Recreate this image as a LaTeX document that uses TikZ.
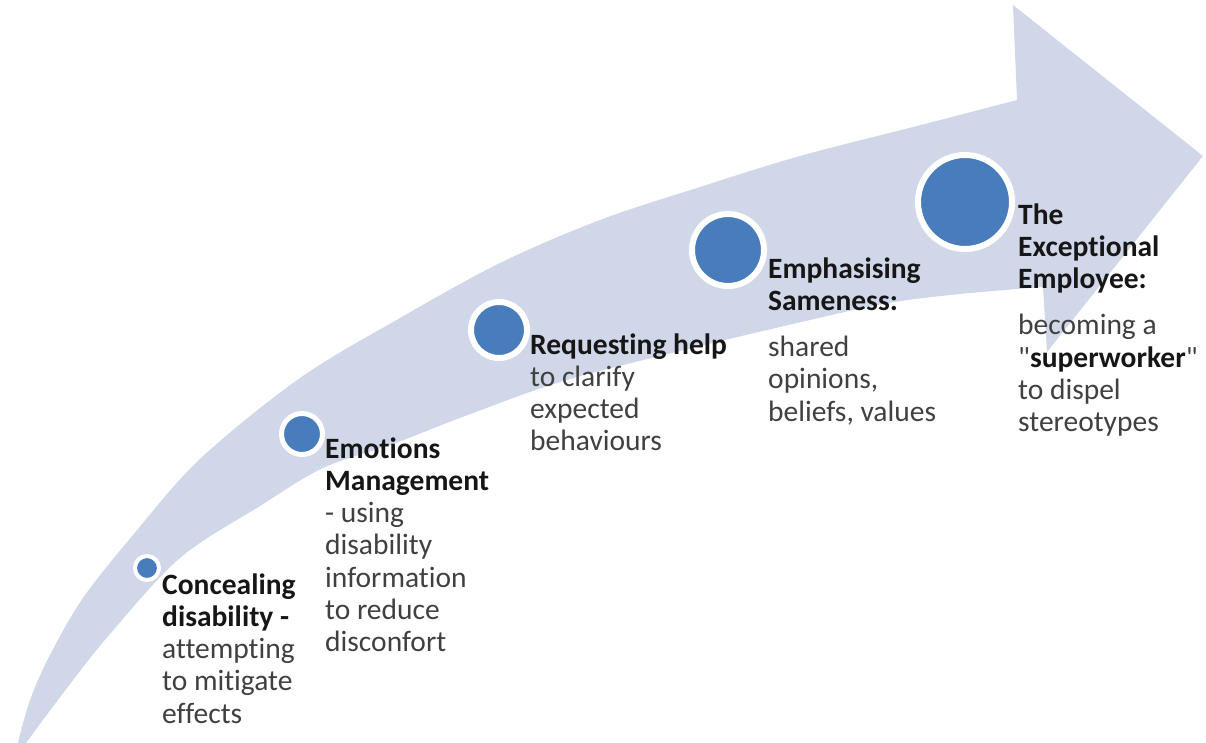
\documentclass[tikz,border=0pt]{standalone}
\usepackage{fontspec}
\setmainfont[Ligatures={TeXOff,NoCommon}]{Carlito}
\definecolor{arrowfill}{RGB}{208,215,232}
\definecolor{dotblue}{RGB}{72,124,187}
\definecolor{boldtext}{RGB}{22,22,22}
\definecolor{plaintext}{RGB}{64,64,64}
\newcommand{\hdline}[1]{\textbf{\color{boldtext}#1}}
\begin{document}
\begin{tikzpicture}[x=1pt,y=-1pt,
  dot/.style={circle, fill=dotblue, draw=white, inner sep=0pt},
  label/.style={anchor=base west, align=left, inner sep=0pt, text=plaintext,
    font=\fontsize{29.5}{32.3}\selectfont}]
\useasboundingbox (0,0) rectangle (1206,743);
% curved arrow
\fill[arrowfill]
  plot[smooth, tension=0.55] coordinates {(18,743) (30,700) (50,655) (83,598) (133,535) (200,459) (300,378) (400,318) (500,263) (600,220) (700,187) (800,156) (917,126) (1017,100)}
  -- (1013,5) -- (1203,156) -- (1047,352) -- (1043,287)
  -- plot[smooth, tension=0.55] coordinates {(1043,287) (960,294) (883,304) (780,327) (680,351) (560,382) (460,418) (393,444) (323,468) (260,506) (180,558) (110,634) (67,688) (26,743)}
  -- cycle;
% circles
\node[dot, line width=4pt, minimum size=24pt] (c1) at (147,568) {};
\node[dot, line width=5pt, minimum size=41pt] (c2) at (302,434) {};
\node[dot, line width=6pt, minimum size=56pt] (c3) at (499,330) {};
\node[dot, line width=6pt, minimum size=72pt] (c4) at (728,250) {};
\node[dot, line width=6pt, minimum size=94pt] (c5) at (965,202) {};
% texts (anchored at the baseline of their last line)
\node[label] (t1) at (162,723.2) {\hdline{Concealing}\\\hdline{disability -}\\attempting\\to mitigate\\effects};
\node[label] (t2) at (325,651.8) {\hdline{Emotions}\\\hdline{Management}\\- using\\disability\\information\\to reduce\\disconfort};
\node[label] (t3) at (530,450.9) {\hdline{Requesting help}\\to clarify\\expected\\behaviours};
\node[label] (t4) at (768,421.2) {\hdline{Emphasising}\\\hdline{Sameness:}\\[14pt]shared\\opinions,\\beliefs, values};
\node[label] (t5) at (1018,431.8) {\hdline{The}\\\hdline{Exceptional}\\\hdline{Employee:}\\[14pt]becoming a\\"\hdline{superworker}"\\to dispel\\stereotypes};
\end{tikzpicture}
\end{document}
